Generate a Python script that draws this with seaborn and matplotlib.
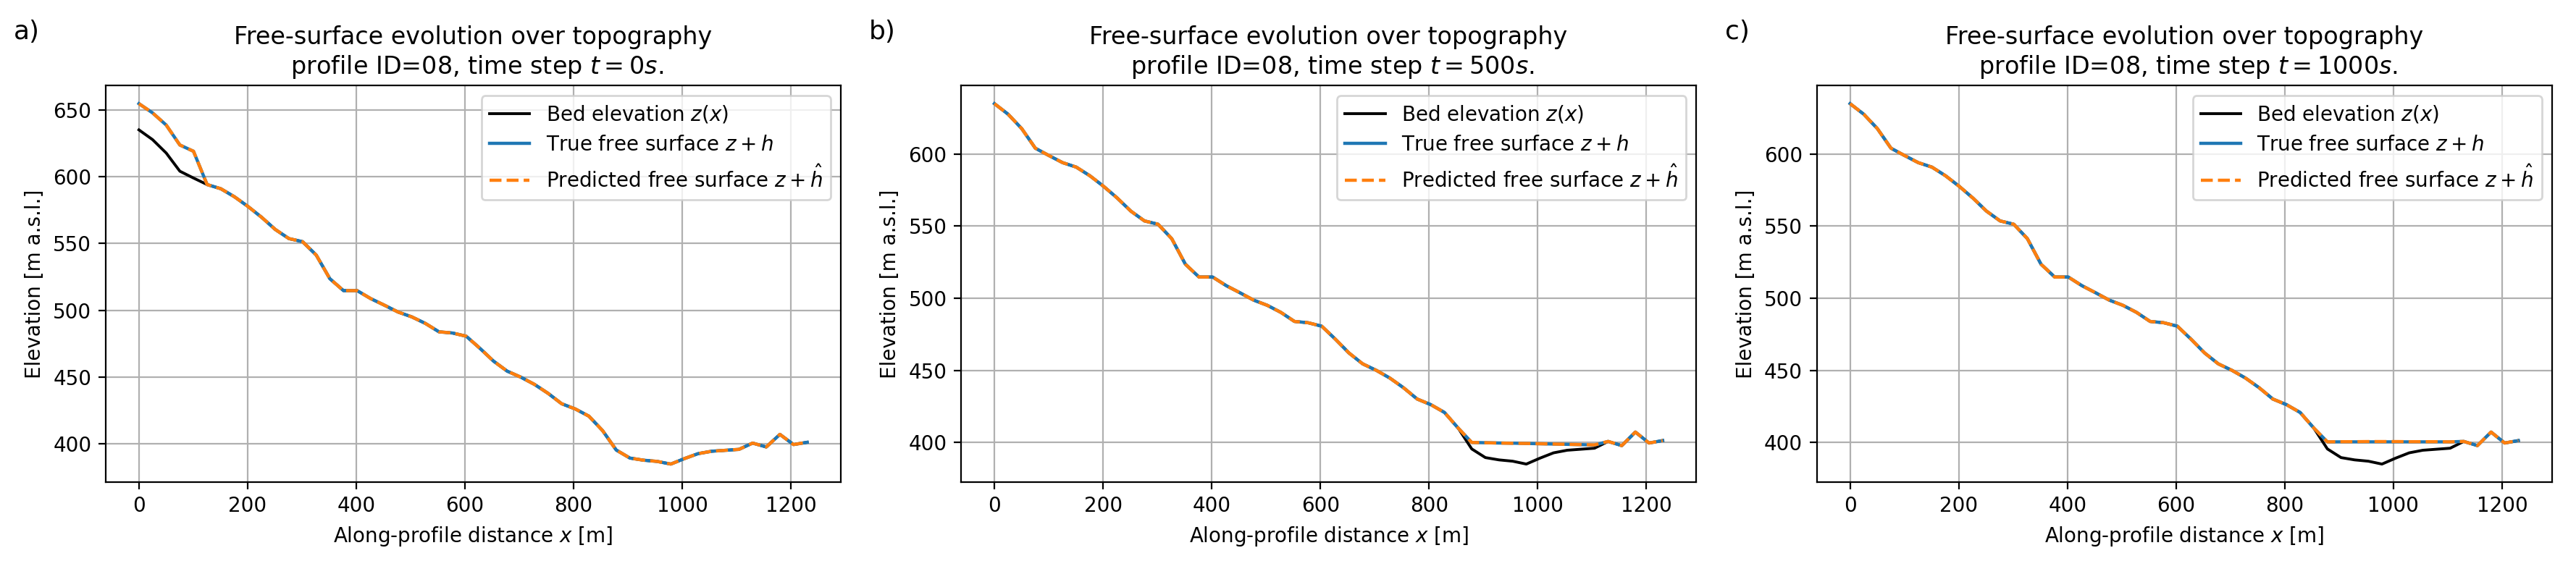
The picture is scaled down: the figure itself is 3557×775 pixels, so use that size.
"""Free-surface evolution over topography, profile 08, three time steps."""
import numpy as np
import matplotlib
matplotlib.use("Agg")
import matplotlib.pyplot as plt
import seaborn as sns

# along-profile grid [m]
x_m = [0.0, 25.1, 50.2, 75.3, 100.4, 125.5, 150.6, 175.7, 200.8, 225.9,
       251.0, 276.1, 301.2, 326.3, 351.4, 376.5, 401.6, 426.7, 451.8, 476.9,
       502.0, 527.1, 552.2, 577.3, 602.4, 627.5, 652.6, 677.7, 702.8, 727.9,
       753.0, 778.1, 803.2, 828.3, 853.4, 878.5, 903.6, 928.7, 953.8, 978.9,
       1004.0, 1029.1, 1054.2, 1079.3, 1104.4, 1129.5, 1154.6, 1179.7, 1204.8, 1229.9]

# bed elevation z(x) [m a.s.l.]
bed_z = [634.9, 627.6, 617.6, 604.0, 598.9, 594.0, 590.9, 584.9, 577.6, 569.5,
         560.4, 553.6, 551.3, 541.3, 523.6, 514.7, 514.7, 508.7, 503.8, 498.7,
         495.1, 490.2, 483.9, 483.0, 480.6, 471.6, 462.0, 454.5, 450.0, 444.6,
         437.9, 430.1, 426.2, 420.8, 410.0, 395.5, 389.5, 387.9, 387.0, 385.0,
         389.1, 392.8, 394.6, 395.3, 396.0, 400.7, 397.8, 407.2, 399.6, 401.3]

# t = 0 s: water released at the top of the profile (first 5 nodes)
head_true_t0 = [654.5, 647.6, 638.5, 623.6, 618.9]
head_pred_t0 = [654.5, 647.6, 638.5, 623.6, 618.9]
# t = 500 s / 1000 s: ponding in the depression (nodes 35..44)
lake_true_t500 = [400.0, 399.8, 399.6, 399.5, 399.3, 399.1, 398.9, 398.7, 398.5, 398.2]
lake_pred_t500 = [400.0, 399.8, 399.6, 399.4, 399.3, 399.1, 398.9, 398.7, 398.5, 398.3]
lake_true_t1000 = [400.4, 400.4, 400.4, 400.4, 400.4, 400.4, 400.4, 400.4, 400.4, 400.4]
lake_pred_t1000 = [400.4, 400.5, 400.5, 400.6, 400.6, 400.6, 400.5, 400.5, 400.5, 400.4]

time_steps = [0, 500, 1000]
panel_tags = ["a)", "b)", "c)"]


def surface(patch, start):
    s = np.array(bed_z, dtype=float)
    s[start:start + len(patch)] = patch
    return s


surfaces = [
    (surface(head_true_t0, 0), surface(head_pred_t0, 0)),
    (surface(lake_true_t500, 35), surface(lake_pred_t500, 35)),
    (surface(lake_true_t1000, 35), surface(lake_pred_t1000, 35)),
]

W, H, DPI = 3557, 775, 200
fig = plt.figure(figsize=(W / DPI, H / DPI), dpi=DPI)
lefts = [145.7, 1327.0, 2508.5]
ax_w, ax_top, ax_bot = 1015.0, 118.3, 666.0

for left, t, tag, (true_s, pred_s) in zip(lefts, time_steps, panel_tags, surfaces):
    ax = fig.add_axes([left / W, 1 - ax_bot / H, ax_w / W, (ax_bot - ax_top) / H])
    sns.lineplot(x=x_m, y=bed_z, ax=ax, color="black", lw=1.4, label=r"Bed elevation $z(x)$")
    sns.lineplot(x=x_m, y=true_s, ax=ax, color="C0", lw=1.6, label=r"True free surface $z+h$")
    sns.lineplot(x=x_m, y=pred_s, ax=ax, color="C1", lw=1.6, linestyle="--",
                 label=r"Predicted free surface $z+\hat{h}$")
    ax.set_title(f"Free-surface evolution over topography\n profile ID=08, time step $t={t}s$.",
                 fontsize=12)
    ax.set_xlabel(r"Along-profile distance $x$ [m]")
    ax.set_ylabel("Elevation [m a.s.l.]")
    ax.grid(True)
    ax.legend(loc="upper right")
    ax.text(-0.125, 1.167, tag, transform=ax.transAxes, fontsize=13, ha="left", va="top")

fig.savefig("out.png", dpi=DPI)
plt.close()
print("Saved: out.png")
